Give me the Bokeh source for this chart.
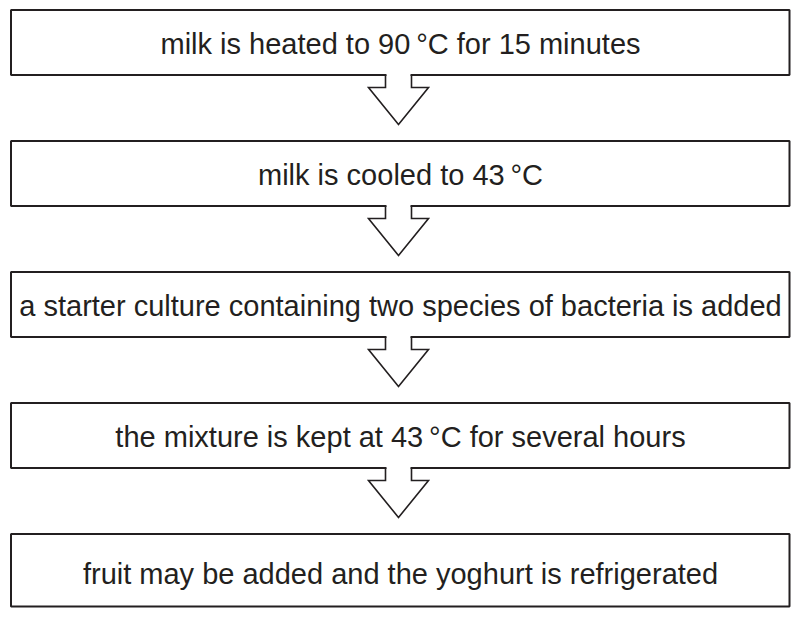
from bokeh.plotting import figure
from bokeh.models import Range1d, ColumnDataSource
from bokeh.core.properties import value
from bokeh.embed import file_html
from bokeh.resources import INLINE

steps = [
    "milk is heated to 90\u2009\u00b0C for 15 minutes",
    "milk is cooled to 43\u2009\u00b0C",
    "a starter culture containing two species of bacteria is added",
    "the mixture is kept at 43\u2009\u00b0C for several hours",
    "fruit may be added and the yoghurt is refrigerated",
]

INK = "#231f20"
W, H = 791, 608
p = figure(width=W, height=H, output_backend="svg", toolbar_location=None,
           x_range=Range1d(0, W), y_range=Range1d(H, 0),
           min_border=0, outline_line_color=None)
p.axis.visible = False
p.grid.visible = False
p.background_fill_color = "white"
p.border_fill_color = "white"

left, right = 10.5, 789.0
cx = 398.0
tops = [9.5, 140.5, 271.5, 402.5, 533.5]
bottoms = [74.5, 205.5, 336.5, 467.5, 606.0]
stem_hw, head_hw, stem_h, head_h = 13.0, 30.0, 12.5, 37.0

bx, by = [], []
for t, b in zip(tops, bottoms):
    bx.append([left, right, right, left])
    by.append([t, t, b, b])
p.patches(bx, by, fill_color="white", line_color=INK, line_width=2)

ax_fill, ay_fill, ax_line, ay_line = [], [], [], []
for b in bottoms[:-1]:
    xs = [cx - stem_hw, cx - stem_hw, cx - head_hw, cx, cx + head_hw, cx + stem_hw, cx + stem_hw]
    ys = [b, b + stem_h, b + stem_h, b + stem_h + head_h, b + stem_h, b + stem_h, b]
    ax_line.append(xs)
    ay_line.append(ys)
    ax_fill.append([cx - stem_hw + 1, cx - stem_hw + 1, cx + stem_hw - 1, cx + stem_hw - 1])
    ay_fill.append([b - 1.6, b + stem_h, b + stem_h, b - 1.6])
p.patches(ax_fill, ay_fill, fill_color="white", line_color=None)
p.multi_line(ax_line, ay_line, line_color=INK, line_width=1.6, line_join="miter")

text_y = [(t + b) / 2 + 1 for t, b in zip(tops, bottoms)]
text_y[-1] = 573.0
src = ColumnDataSource(dict(x=[400.0] * len(steps), y=text_y, t=steps))
p.text(x="x", y="y", text="t", source=src, text_align="center", text_baseline="middle",
       text_font=value("Liberation Sans"), text_font_size="29px", text_color=INK)

open("out.html", "w").write(file_html(p, INLINE))
